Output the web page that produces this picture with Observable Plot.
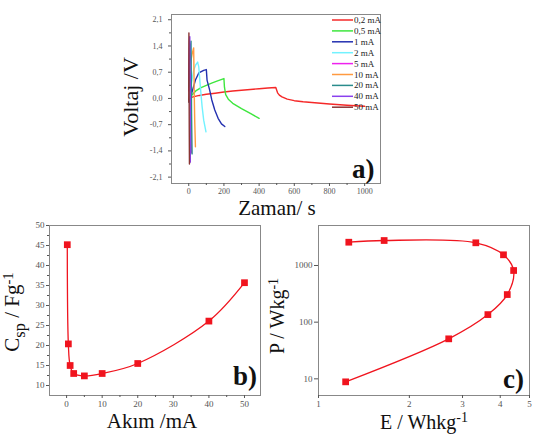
<!DOCTYPE html>
<html><head><meta charset="utf-8">
<script src="https://cdn.jsdelivr.net/npm/d3@7"></script>
<script src="https://cdn.jsdelivr.net/npm/@observablehq/plot@0.6"></script>
<style>
body{margin:0;background:#fff;}
#wrap{position:relative;width:533px;height:446px;overflow:hidden;background:#fff;font-family:"Liberation Serif";}
#wrap svg{position:absolute;}
.ttl{position:absolute;font-family:"Liberation Serif";line-height:1;white-space:nowrap;color:#111;}
.ttl span{position:relative;line-height:1;}
</style></head><body><div id="wrap"></div>
<script>
// ---------- Panel a: charge/discharge curves ----------
const legendLabels = ["0,2 mA","0,5 mA","1 mA","2 mA","5 mA","10 mA","20 mA","40 mA","50 mA"];
const seriesColors = ["#f52828","#3ee63e","#2330b0","#72f2ff","#ee22ee","#ff9a40","#2a8c8c","#8a40ee","#8a3434"];

const time02 = [0,10,30,60,100,150,200,250,300,350,400,450,495,500,505,515,530,560,600,650,700,750,800,900,1000];
const volt02 = [-0.02,0.02,0.05,0.08,0.11,0.14,0.17,0.2,0.22,0.24,0.26,0.28,0.29,0.22,0.15,0.09,0.04,-0.02,-0.06,-0.09,-0.11,-0.13,-0.15,-0.18,-0.21];
const time05 = [0,10,20,40,70,100,130,160,200,203,210,225,250,300,350,400];
const volt05 = [-0.05,0.05,0.1,0.2,0.29,0.35,0.41,0.46,0.53,0.3,0.1,-0.02,-0.13,-0.27,-0.4,-0.53];
const time1 = [0,8,19,38,57,85,100,104,119,131,148,167,186,205];
const volt1 = [-0.1,0.0,0.18,0.49,0.68,0.75,0.77,0.49,0.22,-0.04,-0.31,-0.53,-0.68,-0.75];
const time2 = [0,5,13,28,40,51,53,57,66,76,85,98];
const volt2 = [-0.1,0.1,0.35,0.75,0.9,0.97,0.92,0.84,0.31,-0.22,-0.58,-0.89];
const time5 = [0,3,6,9,10,12,15];
const volt5 = [0.2,0.8,1.2,1.45,0.8,-0.4,-1.45];
const time10 = [0,5,12,20,28,29,31,34,38];
const volt10 = [0.4,0.7,1.0,1.2,1.35,1.0,0.2,-0.6,-1.29];
const time20 = [0,4,9,13,14,16,19];
const volt20 = [0.3,0.9,1.3,1.53,0.8,-0.4,-1.48];
const time40 = [0,2,4,6,7,9];
const volt40 = [0.5,1.2,1.55,1.65,0.5,-1.7];
const time50 = [0,0.5,1,2,3,4];
const volt50 = [-0.1,1.0,1.75,0.3,-0.9,-1.75];

const timeSets = [time02,time05,time1,time2,time5,time10,time20,time40,time50];
const voltSets = [volt02,volt05,volt1,volt2,volt5,volt10,volt20,volt40,volt50];

const xTicksA = [0,200,400,600,800,1000];
const xMinorA = [100,300,500,700,900];
const yTicksA = [-2.1,-1.4,-0.7,0,0.7,1.4,2.1];
const yMinorA = [-1.75,-1.05,-0.35,0.35,1.05,1.75];

// ---------- Panel b: Csp vs current ----------
const currentB = [0.2,0.5,1,2,5,10,20,40,50];
const cspB = [45.2,20.4,15.0,13.0,12.4,13.0,15.5,26.1,35.7];
const xTicksB = [0,10,20,30,40,50];
const xMinorB = [5,15,25,35,45];
const yTicksB = [10,15,20,25,30,35,40,45,50];
const yMinorB = [12.5,17.5,22.5,27.5,32.5,37.5,42.5,47.5];

// ---------- Panel c: Ragone plot ----------
const energyC = [1.23,2.70,3.64,4.22,4.43,4.10,3.32,1.65,1.26];
const powerC  = [8.85,50.8,136,307,816,1545,2515,2760,2576];
const xTicksC = [1,2,3,4,5];
const yTicksC = [10,100,1000];

const red = "#f0141e";
const axisColor = "#555";
const frameColor = "#888";
const serif = "Liberation Serif";
const wrap = document.getElementById("wrap");

function place(svg, left, top){ svg.style.left = left+"px"; svg.style.top = top+"px"; wrap.appendChild(svg); }

// Panel a
const rowsA = timeSets.flatMap((ts,i)=> ts.map((t,j)=>({series: legendLabels[i], t, v: voltSets[i][j]})));
const commaFmt = d => d.toFixed(1).replace(".", ",");
const plotA = Plot.plot({
  width: 260, height: 200, marginLeft: 31, marginRight: 20, marginTop: 14, marginBottom: 17,
  style: {fontFamily: serif, fontSize: "8px", background: "transparent", color: "#333"},
  x: {domain: [-98, 1090]},
  y: {domain: [-2.27, 2.24]},
  color: {domain: legendLabels, range: seriesColors},
  marks: [
    Plot.line(rowsA, {x: "t", y: "v", z: "series", stroke: "series", strokeWidth: 1.4}),
    Plot.frame({stroke: frameColor}),
    Plot.axisX(xTicksA, {tickSize: 3, tickPadding: 2, label: null, color: axisColor, fontFamily: serif, tickFormat: d => String(d)}),
    Plot.axisX(xMinorA, {tickSize: 2, text: null, label: null, color: axisColor}),
    Plot.axisY(yTicksA, {tickSize: 3, tickPadding: 6, label: null, color: axisColor, fontFamily: serif, tickFormat: commaFmt}),
    Plot.axisY(yMinorA, {tickSize: 2, text: null, label: null, color: axisColor})
  ]
});
place(plotA, 140, 0);

// Panel b
const rowsB = currentB.map((c,i)=>({c, v: cspB[i]}));
const plotB = Plot.plot({
  width: 270, height: 246, marginLeft: 49, marginRight: 10, marginTop: 25, marginBottom: 51,
  style: {fontFamily: serif, fontSize: "9px", background: "transparent", color: "#333"},
  x: {domain: [-4.8, 54.5]},
  y: {domain: [7.5, 50]},
  marks: [
    Plot.line(rowsB, {x: "c", y: "v", curve: "catmull-rom", stroke: red, strokeWidth: 1.3}),
    Plot.dot(rowsB, {x: "c", y: "v", symbol: "square", fill: red, r: 3.8}),
    Plot.frame({stroke: frameColor}),
    Plot.axisX(xTicksB, {tickSize: 3, tickPadding: 2, label: null, color: axisColor, fontFamily: serif}),
    Plot.axisX(xMinorB, {tickSize: 2, text: null, label: null, color: axisColor}),
    Plot.axisY(yTicksB, {tickSize: 3, tickPadding: 2, label: null, color: axisColor, fontFamily: serif}),
    Plot.axisY(yMinorB, {tickSize: 2, text: null, label: null, color: axisColor})
  ]
});
place(plotB, 0, 200);

// Panel c
const rowsC = energyC.map((e,i)=>({e, p: powerC[i]}));
const plotC = Plot.plot({
  width: 263, height: 246, marginLeft: 48, marginRight: 4, marginTop: 25, marginBottom: 51,
  style: {fontFamily: serif, fontSize: "9px", background: "transparent", color: "#333"},
  x: {type: "log", domain: [1, 5]},
  y: {type: "log", domain: [5.08, 5080]},
  marks: [
    Plot.line(rowsC, {x: "e", y: "p", curve: "catmull-rom", stroke: red, strokeWidth: 1.3}),
    Plot.dot(rowsC, {x: "e", y: "p", symbol: "square", fill: red, r: 3.8}),
    Plot.frame({stroke: frameColor}),
    Plot.axisX(xTicksC, {tickSize: 3, tickPadding: 2, label: null, color: axisColor, fontFamily: serif, tickFormat: d => String(d)}),
    Plot.axisY(yTicksC, {tickSize: 4, tickPadding: 2, label: null, color: axisColor, fontFamily: serif, tickFormat: d => String(d)})
  ]
});
place(plotC, 270, 200);

// ---------- Legend for panel a (SVG overlay) ----------
const NS = "http://www.w3.org/2000/svg";
const ov = document.createElementNS(NS, "svg");
ov.setAttribute("width", 533); ov.setAttribute("height", 446);
ov.style.left = "0px"; ov.style.top = "0px"; ov.style.pointerEvents = "none";
wrap.appendChild(ov);
legendLabels.forEach((name, i) => {
  const y = 20 + i * 10.9;
  const ln = document.createElementNS(NS, "line");
  ln.setAttribute("x1", 332); ln.setAttribute("x2", 353);
  ln.setAttribute("y1", y); ln.setAttribute("y2", y);
  ln.setAttribute("stroke", seriesColors[i]); ln.setAttribute("stroke-width", 1.5);
  ov.appendChild(ln);
  const tx = document.createElementNS(NS, "text");
  tx.setAttribute("x", 354); tx.setAttribute("y", y + 3);
  tx.setAttribute("font-size", 9); tx.setAttribute("font-family", serif);
  tx.setAttribute("fill", "#222");
  tx.textContent = name;
  ov.appendChild(tx);
});

// ---------- Titles and panel letters (HTML) ----------
// parts: [text, shiftEm (positive = down), scale]
function title(bx, by, rotated, size, parts, weight = "normal", anchor = "middle") {
  const d = document.createElement("div");
  d.className = "ttl";
  d.style.fontSize = size + "px";
  d.style.fontWeight = weight;
  parts.forEach(([txt, shift = 0, scale = 1]) => {
    const s = document.createElement("span");
    s.textContent = txt;
    if (scale !== 1) s.style.fontSize = scale + "em";
    if (shift) s.style.top = (shift / scale) + "em";
    d.appendChild(s);
  });
  const base = 0.8375 * size; // baseline offset from top of line box
  if (rotated) {
    // center of box at (bx - (base - size/2), by)
    d.style.left = (bx - (base - size / 2)) + "px";
    d.style.top = by + "px";
    d.style.transform = "translate(-50%,-50%) rotate(-90deg)";
  } else {
    d.style.left = bx + "px";
    d.style.top = (by - base) + "px";
    if (anchor === "middle") d.style.transform = "translateX(-50%)";
  }
  wrap.appendChild(d);
}

title(138, 97, true, 22, [["Voltaj /V"]]);
title(277, 216, false, 21, [["Zaman/ s"]]);
title(19, 312, true, 21, [["C"], ["sp", 0.28, 0.78], [" / Fg"], ["-1", -0.28, 0.7]]);
title(152, 429, false, 21, [["Akım /mA"]]);
title(284, 316, true, 20, [["P / Wkg"], ["-1", -0.3, 0.7]]);
title(424, 429, false, 20, [["E / Whkg"], ["-1", -0.35, 0.7]]);

title(352, 179, false, 27, [["a)"]], "bold", "start");
title(233, 386, false, 27, [["b)"]], "bold", "start");
title(503, 389, false, 27, [["c)"]], "bold", "start");
</script></body></html>
